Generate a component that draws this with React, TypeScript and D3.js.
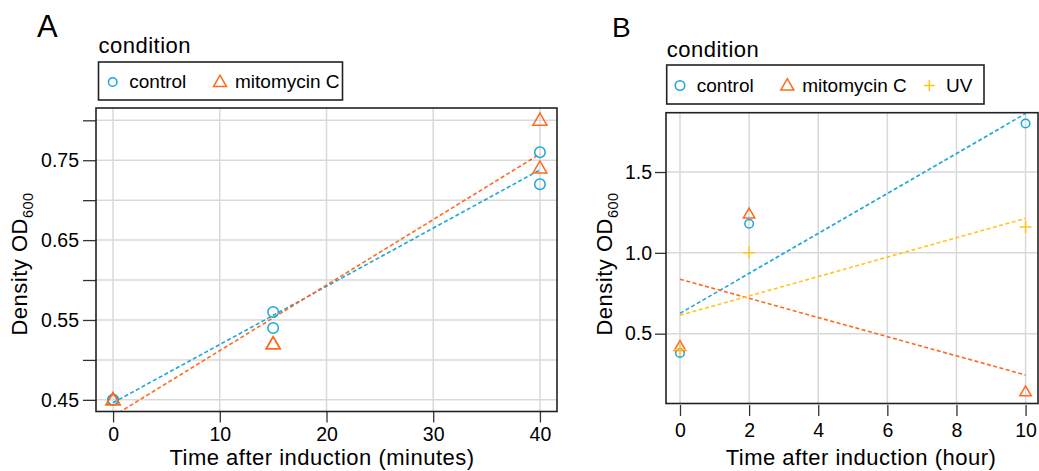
import * as d3 from "d3";
import React, { useRef, useEffect } from "react";

const conditions = ["control", "mitomycin C", "UV"];
const colors = ["#1ba6d9", "#ff6a1e", "#ffc61e"];

// panel A, time in minutes
const timeA = [0, 0, 15, 15, 40, 40];
const controlA = [0.45, 0.45, 0.56, 0.54, 0.76, 0.72];
const mitomycinA = [0.45, 0.45, 0.52, 0.52, 0.8, 0.74];
const xTicksA = [0, 10, 20, 30, 40];
const yTicksA = [0.45, 0.5, 0.55, 0.6, 0.65, 0.7, 0.75, 0.8];
const yLabelsA = [0.45, 0.55, 0.65, 0.75];

// panel B, time in hours
const timeB = [0, 2, 10];
const controlB = [0.38, 1.18, 1.8];
const mitomycinB = [0.42, 1.24, 0.14];
const uvB = [0.4, 1.0, 1.16];
const xTicksB = [0, 2, 4, 6, 8, 10];
const yTicksB = [0.5, 1.0, 1.5];

const FONT = "'Liberation Sans', Arial, Helvetica, sans-serif";

// open marker shapes, "size" is the marker width in px
const circleType = {
    draw(ctx: any, size: number) {
        const r = size / 2;
        ctx.moveTo(r, 0);
        ctx.arc(0, 0, r, 0, 2 * Math.PI);
    }
};
const triangleType = {
    draw(ctx: any, size: number) {
        const h = size * Math.sqrt(3) / 2;
        ctx.moveTo(0, -h * 0.6);
        ctx.lineTo(size / 2, h * 0.4);
        ctx.lineTo(-size / 2, h * 0.4);
        ctx.closePath();
    }
};
const plusType = {
    draw(ctx: any, size: number) {
        const r = size / 2;
        ctx.moveTo(-r, 0);
        ctx.lineTo(r, 0);
        ctx.moveTo(0, -r);
        ctx.lineTo(0, r);
    }
};
const shapes = [circleType, triangleType, plusType];

// least squares line through the points
function fit(xs: number[], ys: number[]) {
    const mx = d3.mean(xs) as number;
    const my = d3.mean(ys) as number;
    let sxy = 0, sxx = 0;
    xs.forEach((x, i) => {
        sxy += (x - mx) * (ys[i] - my);
        sxx += (x - mx) * (x - mx);
    });
    const slope = sxy / sxx;
    return (x: number) => my + slope * (x - mx);
}

function symbolPath(i: number, sizes: number[]) {
    return d3.symbol().type(shapes[i] as any).size(sizes[i])();
}

function drawPanel(svg: any, p: any) {
    const {box} = p;
    const x = d3.scaleLinear().domain(p.xDomain).range([box.left, box.right]);
    const y = d3.scaleLinear().domain(p.yDomain).range([box.bottom, box.top]);

    const clipId = "clip-" + p.letter;
    svg.append("clipPath").attr("id", clipId)
        .append("rect")
        .attr("x", box.left).attr("y", box.top)
        .attr("width", box.right - box.left).attr("height", box.bottom - box.top);

    // grid
    const grid = svg.append("g").attr("class", "grid");
    grid.selectAll(".gx").data(p.xTicks).enter().append("line")
        .attr("x1", (d: number) => x(d)).attr("x2", (d: number) => x(d))
        .attr("y1", box.top).attr("y2", box.bottom)
        .attr("stroke", "#d9d9d9").attr("stroke-width", 1.5);
    grid.selectAll(".gy").data(p.yTicks).enter().append("line")
        .attr("y1", (d: number) => y(d)).attr("y2", (d: number) => y(d))
        .attr("x1", box.left).attr("x2", box.right)
        .attr("stroke", "#d9d9d9").attr("stroke-width", 1.5);

    // axes
    const xAxis = d3.axisBottom(x)
        .tickValues(p.xTicks)
        .tickSize(11)
        .tickPadding(p.xPad)
        .tickFormat(d3.format("d") as any);
    const yAxis = d3.axisLeft(y)
        .tickValues(p.yTicks)
        .tickSize(p.yTickSize)
        .tickPadding(p.yPad)
        .tickFormat((d: any) => p.yLabels.some((v: number) => Math.abs(v - d) < 1e-9) ? p.yFormat(d) : "");

    const gx = svg.append("g")
        .attr("transform", `translate(0, ${box.bottom + p.xGap})`)
        .call(xAxis);
    const gy = svg.append("g")
        .attr("transform", `translate(${box.left}, 0)`)
        .call(yAxis);
    [gx, gy].forEach(g => {
        g.select(".domain").remove();
        g.selectAll("line").attr("stroke", "#333").attr("stroke-width", 1.3);
        g.selectAll("text")
            .attr("fill", "#000")
            .style("font-family", FONT)
            .style("font-size", "19.5px");
    });

    // fitted dashed lines, then points
    const plot = svg.append("g").attr("clip-path", `url(#${clipId})`);
    p.series.forEach((s: any) => {
        const f = fit(p.time, s.values);
        const ext = d3.extent(p.time) as number[];
        plot.append("path")
            .attr("d", d3.line()([[x(ext[0]), y(f(ext[0]))], [x(ext[1]), y(f(ext[1]))]]))
            .attr("fill", "none")
            .attr("stroke", colors[s.idx])
            .attr("stroke-width", 1.6)
            .attr("stroke-dasharray", "4 2.5");
    });
    p.series.forEach((s: any) => {
        svg.append("g").selectAll("path")
            .data(s.values)
            .enter().append("path")
            .attr("transform", (d: number, i: number) => `translate(${x(p.time[i])},${y(d)})`)
            .attr("d", symbolPath(s.idx, p.markSizes))
            .attr("fill", "none")
            .attr("stroke", colors[s.idx])
            .attr("stroke-width", 1.5);
    });

    // plot frame
    svg.append("rect")
        .attr("x", box.left).attr("y", box.top)
        .attr("width", box.right - box.left).attr("height", box.bottom - box.top)
        .attr("fill", "none").attr("stroke", "#222").attr("stroke-width", 1.6);

    // axis titles
    svg.append("text")
        .attr("x", p.xTitle[0]).attr("y", p.xTitle[1])
        .attr("text-anchor", "middle")
        .style("font-family", FONT).style("font-size", "22px").style("letter-spacing", "0.5px")
        .text(p.xLabel);

    const yt = svg.append("text")
        .attr("transform", `translate(${p.yTitle[0]}, ${p.yTitle[1]}) rotate(-90)`)
        .attr("text-anchor", "middle")
        .style("font-family", FONT).style("font-size", "22px").style("letter-spacing", "0.5px");
    yt.append("tspan").text("Density OD");
    yt.append("tspan").attr("dy", 6).style("font-size", "14.5px").text("600");

    // panel letter
    svg.append("text")
        .attr("x", p.letterPos[0]).attr("y", p.letterPos[1])
        .style("font-family", FONT).style("font-size", p.letterSize + "px")
        .text(p.letter);

    // legend
    const lg = p.legend;
    svg.append("text")
        .attr("x", lg.left).attr("y", lg.titleY)
        .style("font-family", FONT).style("font-size", "22px").style("letter-spacing", "0.5px")
        .text("condition");
    svg.append("rect")
        .attr("x", lg.left).attr("y", lg.top)
        .attr("width", lg.right - lg.left).attr("height", lg.bottom - lg.top)
        .attr("fill", "none").attr("stroke", "#222").attr("stroke-width", 1.6);
    const cy = (lg.top + lg.bottom) / 2;
    p.series.forEach((s: any, k: number) => {
        svg.append("path")
            .attr("transform", `translate(${lg.keys[k]},${cy + 1})`)
            .attr("d", symbolPath(s.idx, lg.markSizes))
            .attr("fill", "none")
            .attr("stroke", colors[s.idx])
            .attr("stroke-width", 1.5);
        svg.append("text")
            .attr("x", lg.labels[k]).attr("y", cy + 7)
            .style("font-family", FONT).style("font-size", "19px")
            .text(conditions[s.idx]);
    });
}

function App() {
    const ref = useRef<SVGSVGElement>(null);

    useEffect(() => {
        const svg = d3.select(ref.current);
        svg.selectAll("*").remove();

        drawPanel(svg, {
            letter: "A", letterPos: [37, 37], letterSize: 31,
            box: {left: 96, right: 557, top: 108, bottom: 411.5},
            xDomain: [-1.6, 41.6], yDomain: [0.4354, 0.8154],
            xTicks: xTicksA, yTicks: yTicksA, yLabels: yLabelsA,
            yFormat: d3.format(".2f"),
            xPad: 5, xGap: 0, yTickSize: 13, yPad: 4,
            time: timeA,
            series: [{idx: 0, values: controlA}, {idx: 1, values: mitomycinA}],
            markSizes: [10.5, 14, 12],
            xLabel: "Time after induction (minutes)", xTitle: [322, 465],
            yTitle: [27, 264],
            legend: {left: 98.5, right: 342.5, top: 62, bottom: 100, titleY: 53,
                keys: [112.7, 220], labels: [129.3, 235], markSizes: [8.5, 13, 11]},
        });

        drawPanel(svg, {
            letter: "B", letterPos: [612, 37], letterSize: 28,
            box: {left: 666, right: 1038, top: 112.7, bottom: 403.5},
            xDomain: [-0.405, 10.36], yDomain: [0.068, 1.867],
            xTicks: xTicksB, yTicks: yTicksB, yLabels: yTicksB,
            yFormat: d3.format(".1f"),
            xPad: 7, xGap: 1.5, yTickSize: 11, yPad: 3,
            time: timeB,
            series: [{idx: 0, values: controlB}, {idx: 1, values: mitomycinB}, {idx: 2, values: uvB}],
            markSizes: [8.5, 11.5, 12],
            xLabel: "Time after induction (hour)", xTitle: [861, 465],
            yTitle: [612, 264],
            legend: {left: 666.7, right: 984, top: 65, bottom: 104, titleY: 57,
                keys: [680, 787.3, 929.3], labels: [696.7, 802.3, 946], markSizes: [9.5, 13, 11]},
        });
    }, []);

    return (
        <svg ref={ref} width={1039} height={471}
            style={{position: "absolute", left: 0, top: 0, background: "#fff"}} />
    );
}

export default App;
